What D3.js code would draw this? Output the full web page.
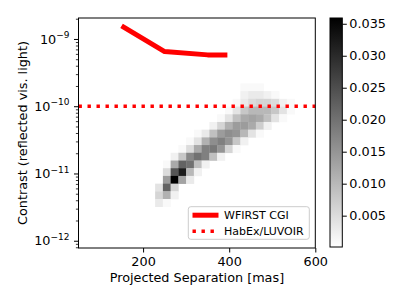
<!DOCTYPE html>
<html>
<head>
<meta charset="utf-8">
<script src="https://cdn.jsdelivr.net/npm/d3@7.9.0/dist/d3.min.js"></script>
<style>
  body { margin: 0; background: #fff; }
  text { font-family: "DejaVu Sans", sans-serif; fill: #000; }
</style>
</head>
<body>
<svg id="chart" width="399" height="303"></svg>
<script>
// histogram bin edges (separation in mas, contrast as log10, top -> bottom)
const sepEdges = [228, 246, 264, 282, 300, 318, 336, 354, 372, 390, 408, 426, 444, 462, 480, 498, 516, 534, 552, 570];
const logContrastEdges = [-9.661, -9.775, -9.890, -10.005, -10.119, -10.234, -10.348, -10.463, -10.577,
  -10.692, -10.807, -10.921, -11.036, -11.151, -11.265, -11.380, -11.494];

// density per cell, in units of 1e-3 (rows top -> bottom, cols left -> right)
const density = [
  [0, 0, 0, 0, 0, 0, 0, 0, 0, 0, 0, 1, 1, 1, 0, 0, 0, 0, 0],
  [0, 0, 0, 0, 0, 0, 0, 0, 0, 0, 0, 2, 3, 3, 2, 1, 0, 0, 0],
  [0, 0, 0, 0, 0, 0, 0, 0, 0, 0, 1, 3, 5, 6, 6, 5, 2, 1, 0],
  [0, 0, 0, 0, 0, 0, 0, 0, 0, 1, 4, 8, 10, 10, 10, 8, 4, 1, 0],
  [0, 0, 0, 0, 0, 0, 0, 0, 1, 4, 9, 12, 13, 12, 9, 4, 1, 0, 0],
  [0, 0, 0, 0, 0, 0, 0, 2, 6, 11, 14, 14, 12, 7, 2, 0, 0, 0, 0],
  [0, 0, 0, 0, 0, 1, 3, 9, 14, 16, 15, 10, 4, 1, 0, 0, 0, 0, 0],
  [0, 0, 0, 0, 1, 4, 11, 16, 18, 15, 8, 2, 0, 0, 0, 0, 0, 0, 0],
  [0, 0, 0, 1, 5, 12, 18, 19, 15, 6, 1, 0, 0, 0, 0, 0, 0, 0, 0],
  [0, 0, 2, 8, 17, 20, 18, 9, 2, 0, 0, 0, 0, 0, 0, 0, 0, 0, 0],
  [0, 1, 12, 22, 20, 9, 2, 0, 0, 0, 0, 0, 0, 0, 0, 0, 0, 0, 0],
  [0, 5, 24, 32, 10, 2, 0, 0, 0, 0, 0, 0, 0, 0, 0, 0, 0, 0, 0],
  [0, 14, 36, 13, 3, 0, 0, 0, 0, 0, 0, 0, 0, 0, 0, 0, 0, 0, 0],
  [4, 22, 6, 0, 0, 0, 0, 0, 0, 0, 0, 0, 0, 0, 0, 0, 0, 0, 0],
  [6, 11, 2, 0, 0, 0, 0, 0, 0, 0, 0, 0, 0, 0, 0, 0, 0, 0, 0],
  [3, 1, 0, 0, 0, 0, 0, 0, 0, 0, 0, 0, 0, 0, 0, 0, 0, 0, 0]
];

// WFIRST CGI contrast curve + HabEx/LUVOIR goal
const wfirstSep = [155, 250, 350, 390];
const wfirstContrast = [1.5e-9, 6.5e-10, 5.8e-10, 5.8e-10];
const habexContrast = 1e-10;

const xTicks = [200, 400, 600];
const yTickExps = [-12, -11, -10, -9];
const cbarTicks = [0.005, 0.010, 0.015, 0.020, 0.025, 0.030, 0.035];
const cbarRange = [0.0001, 0.0359];

const svg = d3.select('#chart');
const plot = { left: 78.5, right: 315.3, top: 18, bottom: 248 };

let x = d3.scaleLinear().domain([50, 600]).range([plot.left, plot.right]);
let y = d3.scaleLog().domain([7.8e-13, 2.05e-9]).range([plot.bottom, plot.top]);
let color = d3.scaleLinear().domain(cbarRange).range(['#ffffff', '#000000']).clamp(true);

// heatmap cells
let cells = [];
density.forEach((row, r) => {
  row.forEach((v, c) => {
    if (v > 0) cells.push({ r, c, v: v / 1000 });
  });
});
svg.append('g')
  .selectAll('rect')
  .data(cells)
  .join('rect')
  .attr('x', d => x(sepEdges[d.c]))
  .attr('width', d => x(sepEdges[d.c + 1]) - x(sepEdges[d.c]) + 0.3)
  .attr('y', d => y(Math.pow(10, logContrastEdges[d.r])))
  .attr('height', d => y(Math.pow(10, logContrastEdges[d.r + 1])) - y(Math.pow(10, logContrastEdges[d.r])) + 0.3)
  .attr('fill', d => color(d.v));

// dotted HabEx line
svg.append('line')
  .attr('x1', plot.left).attr('x2', plot.right)
  .attr('y1', y(habexContrast)).attr('y2', y(habexContrast))
  .attr('stroke', 'red').attr('stroke-width', 3.4)
  .attr('stroke-dasharray', '3.4,5.6');

// WFIRST line
let line = d3.line().x(d => x(d[0])).y(d => y(d[1]));
svg.append('path')
  .attr('d', line(d3.zip(wfirstSep, wfirstContrast)))
  .attr('fill', 'none').attr('stroke', 'red').attr('stroke-width', 5)
  .attr('stroke-linecap', 'square').attr('stroke-linejoin', 'round');

// axes
let xAxis = svg.append('g')
  .attr('transform', `translate(0,${plot.bottom})`)
  .call(d3.axisBottom(x).tickValues(xTicks).tickSize(4.5).tickPadding(4));
xAxis.select('.domain').remove();
xAxis.selectAll('text').attr('font-size', 12.8).style('font-family', '"DejaVu Sans", sans-serif');
xAxis.selectAll('line').attr('stroke-width', 1);

let yAxis = svg.append('g')
  .attr('transform', `translate(${plot.left},0)`)
  .call(d3.axisLeft(y).tickValues(yTickExps.map(e => Math.pow(10, e))).tickSize(4.5).tickFormat(''));
yAxis.select('.domain').remove();
yAxis.selectAll('line').attr('stroke-width', 1);

let minorTicks = y.ticks().filter(t => !yTickExps.some(e => Math.abs(Math.log10(t) - e) < 1e-6));
let yMinor = svg.append('g')
  .attr('transform', `translate(${plot.left},0)`)
  .call(d3.axisLeft(y).tickValues(minorTicks).tickSize(2.6).tickFormat(''));
yMinor.select('.domain').remove();
yMinor.selectAll('line').attr('stroke-width', 0.8);

yTickExps.forEach(e => {
  let t = svg.append('text')
    .attr('x', 69.5).attr('y', y(Math.pow(10, e)) + 4.6)
    .attr('text-anchor', 'end').attr('font-size', 12.8);
  t.append('tspan').text('10');
  t.append('tspan').attr('font-size', 9).attr('dy', -5.5).text('\u2212' + Math.abs(e));
});

// frame
svg.append('rect')
  .attr('x', plot.left).attr('y', plot.top)
  .attr('width', plot.right - plot.left).attr('height', plot.bottom - plot.top)
  .attr('fill', 'none').attr('stroke', '#000').attr('stroke-width', 1);

// axis labels
svg.append('text')
  .attr('x', (plot.left + plot.right) / 2).attr('y', 281.5)
  .attr('text-anchor', 'middle').attr('font-size', 12.8)
  .text('Projected Separation [mas]');
svg.append('text')
  .attr('transform', `translate(27,${(plot.top + plot.bottom) / 2}) rotate(-90)`)
  .attr('text-anchor', 'middle').attr('font-size', 12.8)
  .text('Contrast (reflected vis. light)');

// legend
let legend = svg.append('g');
legend.append('rect')
  .attr('x', 188.3).attr('y', 206.7).attr('width', 121).attr('height', 32.6)
  .attr('rx', 2.5).attr('fill', 'white').attr('fill-opacity', 0.8)
  .attr('stroke', '#cccccc').attr('stroke-width', 1);
const legendItems = [
  { label: 'WFIRST CGI', dash: null, width: 5, cy: 215.2 },
  { label: 'HabEx/LUVOIR', dash: '3.4,5.6', width: 3.4, cy: 231.2 }
];
legendItems.forEach(d => {
  legend.append('line')
    .attr('x1', 192.5).attr('x2', 218.5).attr('y1', d.cy).attr('y2', d.cy)
    .attr('stroke', 'red').attr('stroke-width', d.width)
    .attr('stroke-dasharray', d.dash);
  legend.append('text')
    .attr('x', 224).attr('y', d.cy + 4)
    .attr('font-size', 11).text(d.label);
});

// colorbar
const cb = { left: 330, right: 342.3, top: 18, bottom: 247 };
let cy = d3.scaleLinear().domain(cbarRange).range([cb.bottom, cb.top]);
let grad = svg.append('defs').append('linearGradient')
  .attr('id', 'cbgrad').attr('x1', 0).attr('x2', 0).attr('y1', 1).attr('y2', 0);
grad.append('stop').attr('offset', 0).attr('stop-color', '#ffffff');
grad.append('stop').attr('offset', 1).attr('stop-color', '#000000');
svg.append('rect')
  .attr('x', cb.left).attr('y', cb.top)
  .attr('width', cb.right - cb.left).attr('height', cb.bottom - cb.top)
  .attr('fill', 'url(#cbgrad)').attr('stroke', '#000').attr('stroke-width', 1);
let cAxis = svg.append('g')
  .attr('transform', `translate(${cb.right},0)`)
  .call(d3.axisRight(cy).tickValues(cbarTicks).tickSize(4.5).tickPadding(2.5).tickFormat(d3.format('.3f')));
cAxis.select('.domain').remove();
cAxis.selectAll('text').attr('font-size', 12.8).style('font-family', '"DejaVu Sans", sans-serif');
cAxis.selectAll('line').attr('stroke-width', 1);
</script>
</body>
</html>
